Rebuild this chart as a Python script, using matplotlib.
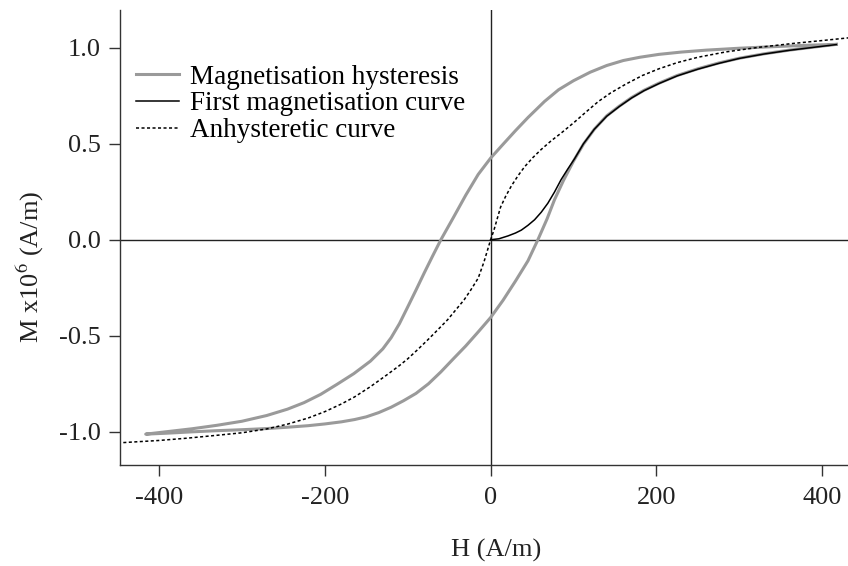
import numpy as np
import matplotlib
matplotlib.use("Agg")
import matplotlib.pyplot as plt

plt.rcParams['font.family'] = ['Liberation Serif', 'DejaVu Serif']
plt.rcParams['mathtext.fontset'] = 'stix'
plt.rcParams['axes.unicode_minus'] = False

# hysteresis loop, descending branch (from +H to -H)
h_down = [417, 380, 340, 300, 260, 230, 203, 180, 160, 140, 120, 100, 82, 65,
          45, 30, 15, 0, -15, -30, -45, -60, -70, -80, -90, -100, -110, -120,
          -130, -145, -165, -185, -205, -225, -245, -270, -300, -330, -360,
          -390, -416]
m_down = [1.017, 1.012, 1.005, 0.997, 0.987, 0.977, 0.965, 0.950, 0.933, 0.907,
          0.872, 0.828, 0.781, 0.720, 0.636, 0.568, 0.497, 0.425, 0.340, 0.232,
          0.115, 0.0, -0.085, -0.172, -0.262, -0.350, -0.437, -0.510, -0.568,
          -0.632, -0.697, -0.752, -0.805, -0.848, -0.882, -0.915, -0.945,
          -0.966, -0.984, -0.999, -1.012]

# hysteresis loop, ascending branch (from -H to +H)
h_up = [-416, -390, -360, -330, -300, -270, -245, -220, -200, -180, -164, -150,
        -135, -120, -105, -90, -75, -60, -45, -30, -15, 0, 15, 30, 45, 57, 68,
        77, 88, 100, 112, 125, 140, 155, 170, 185, 203, 225, 250, 275, 300,
        330, 360, 390, 417]
m_up = [-1.012, -1.007, -1.000, -0.994, -0.989, -0.983, -0.976, -0.968, -0.959,
        -0.948, -0.936, -0.922, -0.900, -0.872, -0.838, -0.800, -0.750, -0.688,
        -0.620, -0.553, -0.480, -0.405, -0.315, -0.215, -0.110, 0.0, 0.108,
        0.208, 0.310, 0.410, 0.498, 0.575, 0.645, 0.695, 0.740, 0.778, 0.815,
        0.855, 0.890, 0.920, 0.945, 0.968, 0.987, 1.003, 1.017]

# first magnetisation curve
h_first = [0, 10, 21, 30, 37, 45, 53, 61, 69, 77, 85, 93, 101, 112, 125, 140,
           155, 170, 185, 203, 225, 250, 275, 300, 330, 360, 390, 417]
m_first = [0.0, 0.005, 0.020, 0.035, 0.050, 0.075, 0.104, 0.143, 0.190, 0.248,
           0.313, 0.368, 0.420, 0.500, 0.575, 0.643, 0.693, 0.738, 0.776, 0.813,
           0.853, 0.888, 0.918, 0.944, 0.967, 0.986, 1.002, 1.016]

# anhysteretic curve
h_anh = [-443, -400, -366, -330, -300, -270, -245, -220, -200, -180, -164, -145,
         -124, -110, -100, -88, -76, -64, -52, -42, -32, -24, -15, -8, 0, 4, 8,
         12, 18, 25, 33, 41, 51, 61, 73, 85, 101, 115, 130, 145, 163, 183, 203,
         225, 250, 284, 324, 365, 400, 434]
m_anh = [-1.056, -1.045, -1.033, -1.018, -1.005, -0.985, -0.960, -0.928, -0.895,
         -0.855, -0.818, -0.765, -0.700, -0.655, -0.620, -0.572, -0.522, -0.470,
         -0.417, -0.365, -0.313, -0.262, -0.200, -0.115, 0.0, 0.050, 0.110,
         0.170, 0.225, 0.280, 0.333, 0.380, 0.428, 0.470, 0.515, 0.555, 0.612,
         0.665, 0.720, 0.765, 0.810, 0.855, 0.890, 0.922, 0.950, 0.978, 1.002,
         1.022, 1.037, 1.052]

fig = plt.figure(figsize=(8.48, 5.66), dpi=100)
ax = fig.add_axes([0.1415, 0.178, 0.8585, 0.804])

ax.axhline(0, color='#222222', lw=1.0, zorder=1)
ax.axvline(0, color='#222222', lw=1.0, zorder=1)

ax.plot(h_down + h_up, m_down + m_up, color='#9a9a9a', lw=2.2,
        label='Magnetisation hysteresis', zorder=2)
ax.plot(h_first, m_first, color='black', lw=1.1,
        label='First magnetisation curve', zorder=3)
ax.plot(h_anh, m_anh, color='black', lw=1.1, linestyle=(0, (2, 1.6)),
        label='Anhysteretic curve', zorder=3)

ax.set_xlim(-447, 431)
ax.set_ylim(-1.174, 1.195)
ax.set_xticks([-400, -200, 0, 200, 400])
ax.set_yticks([-1.0, -0.5, 0.0, 0.5, 1.0])
ax.set_yticklabels(['-1.0', '-0.5', '0.0', '0.5', '1.0'])

for side in ['top', 'right']:
    ax.spines[side].set_visible(False)
for side in ['left', 'bottom']:
    ax.spines[side].set_color('#333333')
    ax.spines[side].set_linewidth(1.0)

ax.tick_params(direction='out', length=8, width=1.0, color='#333333',
               labelsize=19, labelcolor='#222222')
ax.tick_params(axis='y', pad=6)
ax.tick_params(axis='x', pad=8)

ax.set_xlabel('H (A/m)', fontsize=19, color='#222222')
ax.set_ylabel(r'M x10$^{6}$ (A/m)', fontsize=19, color='#222222')
ax.xaxis.set_label_coords(0.516, -0.162)
ax.yaxis.set_label_coords(-0.102, 0.435)

ax.legend(loc='upper left', bbox_to_anchor=(0.022, 0.880), frameon=False,
          fontsize=19.5, handlelength=1.6, handletextpad=0.4, labelspacing=0.06,
          borderpad=0, borderaxespad=0)

fig.savefig('out.png', dpi=100)
